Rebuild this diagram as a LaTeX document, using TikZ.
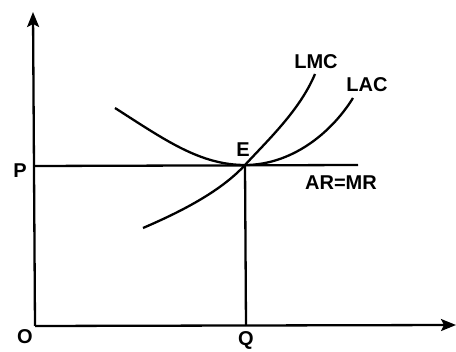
\documentclass[tikz,border=0pt]{standalone}
\usepackage{fontspec}
\setmainfont{Liberation Sans}
\usetikzlibrary{arrows.meta}
\tikzset{
  axis/.style={line width=2.3pt, -{Stealth[length=15pt,width=12pt,inset=3pt]}},
  curve/.style={line width=2.3pt},
  lbl/.style={font=\fontsize{20}{20}\selectfont\bfseries, inner sep=0pt},
}
\begin{document}
\begin{tikzpicture}[x=1pt,y=-1pt]
\useasboundingbox (0,0) rectangle (456,352);
\coordinate (O) at (35,326);
\coordinate (Ytop) at (33,12);
\coordinate (Xend) at (456,325);
\coordinate (Pl) at (35,166);
\coordinate (Pr) at (358,165);
\coordinate (E) at (245,165);
\coordinate (Qb) at (246,326);
\draw[axis] (O) -- (Ytop);
\draw[axis] (O) -- (Xend);
\draw[curve] (Pl) -- (Pr);
\draw[curve] (E) -- (Qb);
% LAC
\draw[curve] (115,108) .. controls (165,140) and (200,165) .. (E)
  .. controls (290,165) and (330,135) .. (353,98);
% LMC
\draw[curve] (143,228) .. controls (185,210) and (222,190) .. (E)
  .. controls (268,140) and (300,110) .. (315,74);
\node[lbl] (lO) at (25,337) {O};
\node[lbl] (lQ) at (246,340) {Q};
\node[lbl] (lP) at (20,171) {P};
\node[lbl] (lE) at (243,150) {E};
\node[lbl] (lLMC) at (316,62) {LMC};
\node[lbl] (lLAC) at (367,85) {LAC};
\node[lbl] (lAR) at (341,183) {AR=MR};
\end{tikzpicture}
\end{document}
